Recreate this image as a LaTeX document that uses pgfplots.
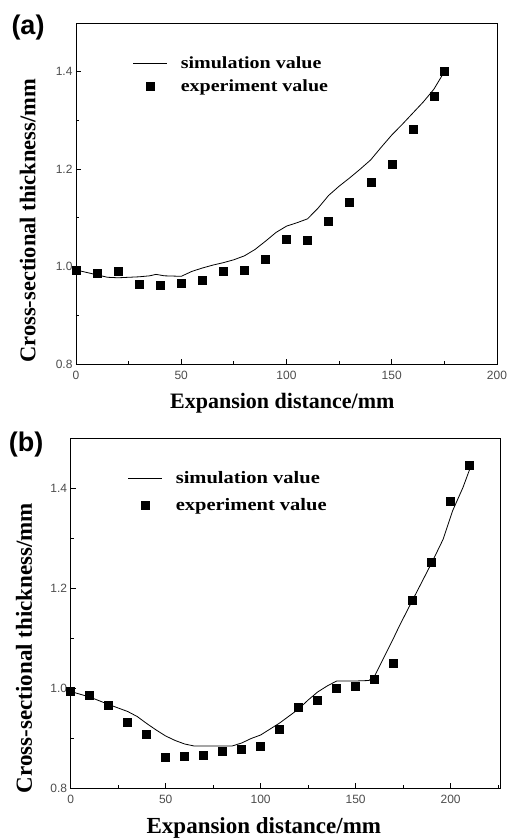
\documentclass[border=0pt]{standalone}
\usepackage{fontspec}
\setmainfont{Liberation Serif}
\newfontfamily\sansf{Liberation Sans}
\usepackage{graphicx}
\usepackage{pgfplots}
\pgfplotsset{compat=1.18}

\pgfplotstableread{
x y
0 0.992
10 0.986
20 0.990
30 0.964
40 0.962
50 0.966
60 0.972
70 0.990
80 0.992
90 1.016
100 1.056
110 1.055
120 1.094
130 1.133
140 1.173
150 1.211
160 1.282
170 1.349
175 1.401
}\expA

\pgfplotstableread{
x y
0 0.993
5 0.988
10 0.983
15 0.978
20 0.977
25 0.978
30 0.979
35 0.981
38 0.984
42 0.981
50 0.980
55 0.990
60 0.997
65 1.003
70 1.008
75 1.014
80 1.022
85 1.035
90 1.052
95 1.070
100 1.083
105 1.090
110 1.098
115 1.120
120 1.146
125 1.165
130 1.182
135 1.200
140 1.219
145 1.245
150 1.270
155 1.292
160 1.315
165 1.338
170 1.364
175 1.400
}\simA

\pgfplotstableread{
x y
0 0.993
10 0.985
20 0.965
30 0.931
40 0.908
50 0.862
60 0.864
70 0.866
80 0.873
90 0.878
100 0.883
110 0.918
120 0.962
130 0.975
140 0.999
150 1.003
160 1.018
170 1.050
180 1.176
190 1.252
200 1.374
210 1.445
}\expB

\pgfplotstableread{
x y
0 0.993
10 0.982
20 0.967
30 0.953
35 0.943
40 0.929
45 0.916
50 0.904
55 0.895
60 0.888
65 0.884
70 0.884
80 0.884
85 0.884
90 0.890
95 0.899
100 0.906
105 0.918
110 0.930
115 0.944
120 0.958
125 0.976
130 0.992
135 1.004
140 1.014
150 1.014
157 1.015
160 1.024
165 1.062
170 1.100
173 1.124
180 1.176
185 1.213
190 1.250
196 1.297
201 1.354
206.5 1.401
210 1.437
}\simB

\newcommand{\lgtxt}[1]{\scalebox{1}[0.85]{#1}}

\pgfplotsset{
 myax/.style={
  scale only axis,
  axis line style={line width=0.9pt},
  tick align=inside, xtick pos=bottom, ytick pos=left,
  ymin=0.8, ymax=1.5, ytick={0.8,1.0,1.2,1.4}, minor ytick={0.9,1.1,1.3},
  yticklabel style={/pgf/number format/fixed, /pgf/number format/fixed zerofill, /pgf/number format/precision=1},
  /pgf/number format/assume math mode=true,
  tick label style={font=\sansf\fontsize{12}{14}\selectfont, text=black!70},
  major tick length=5pt, minor tick length=3pt,
  tick style={black, line width=0.8pt},
  xticklabel style={yshift=-4pt},
  legend style={draw=none, fill=none, inner sep=0pt, nodes={inner sep=0pt}, column sep=13pt},
  legend cell align=left,
 },
 simst/.style={black, line width=0.8pt, no marks,
   legend image code/.code={\draw[##1] (0pt,0pt) -- (34pt,0pt);}},
 expst/.style={black, only marks, mark=square*, mark size=4pt,
   legend image code/.code={\path[draw=none] (0pt,0pt) -- (34pt,0pt);
     \draw[##1, draw=none, mark repeat=3, mark phase=2] plot coordinates {(0pt,0pt) (17pt,0pt) (34pt,0pt)};}},
}

\begin{document}
\begin{tikzpicture}
\path[use as bounding box] (0pt,0pt) rectangle (507pt,839pt);
\begin{axis}[myax, at={(76pt,475pt)}, anchor=south west, width=421pt, height=341pt,
  xmin=0, xmax=200, xtick={0,50,...,200}, minor xtick={25,75,125,175},
  xlabel={Expansion distance/mm}, ylabel={Cross-sectional thickness/mm},
  xlabel style={font=\bfseries\fontsize{22}{24}\selectfont, at={(axis description cs:0.49,-0.114)}, anchor=center},
  ylabel style={font=\bfseries\fontsize{22.5}{24}\selectfont, at={(axis description cs:-0.115,0.42)}, anchor=center},
  legend style={font=\bfseries\fontsize{20}{22}\selectfont, at={(rel axis cs:0.135,0.902)}, anchor=north west, row sep=10pt}]
\addplot[simst] table {\simA};
\addlegendentry{\lgtxt{simulation value}}
\addplot[expst] table {\expA};
\addlegendentry{\lgtxt{experiment value}}
\end{axis}
\begin{axis}[myax, at={(70.7pt,51pt)}, anchor=south west, width=429.3pt, height=350pt,
  xmin=0, xmax=226, xtick={0,50,...,200}, minor xtick={25,75,125,175,225},
  xlabel={Expansion distance/mm}, ylabel={Cross-sectional thickness/mm},
  xlabel style={font=\bfseries\fontsize{23}{25}\selectfont, at={(axis description cs:0.45,-0.114)}, anchor=center},
  ylabel style={font=\bfseries\fontsize{23}{25}\selectfont, at={(axis description cs:-0.109,0.40)}, anchor=center},
  legend style={font=\bfseries\fontsize{20.5}{22}\selectfont, at={(rel axis cs:0.133,0.905)}, anchor=north west, row sep=13pt}]
\addplot[simst] table {\simB};
\addlegendentry{\lgtxt{simulation value}}
\addplot[expst] table {\expB};
\addlegendentry{\lgtxt{experiment value}}
\end{axis}
\node[font=\sansf\bfseries\fontsize{27}{29}\selectfont] at (28pt,811pt) {(a)};
\node[font=\sansf\bfseries\fontsize{27}{29}\selectfont] at (26pt,394pt) {(b)};
\end{tikzpicture}
\end{document}
